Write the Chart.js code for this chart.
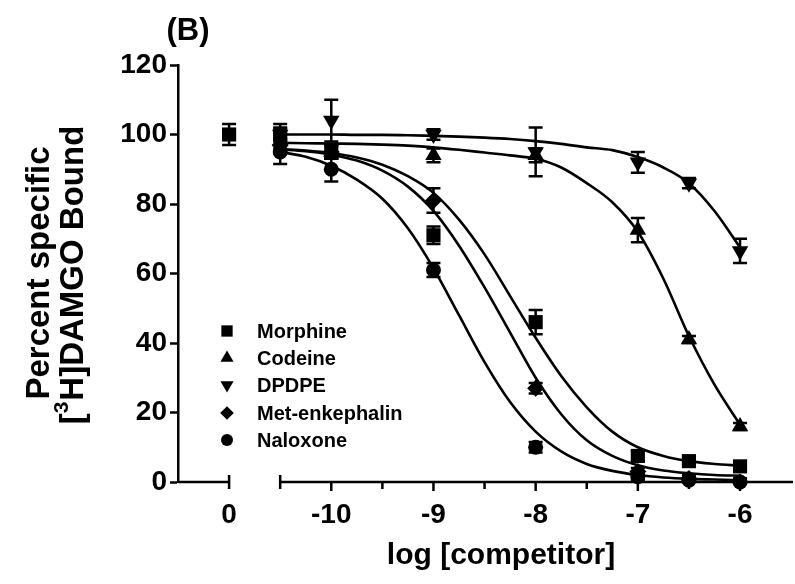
<!DOCTYPE html>
<html lang="en">
<head>
  <meta charset="UTF-8" />
  <title>[3H]DAMGO competition binding</title>
  <script src="https://cdn.jsdelivr.net/npm/chart.js"></script>
  <style>
    html, body { margin: 0; padding: 0; background: #fff; }
    #chart { display: block; }
  </style>
</head>
<body>
  <canvas id="chart" width="795" height="584"></canvas>

  <script>
    // x = -11 stands for the "0" (no competitor) point, left of the axis break
    const zeroPos = -11;
    const xTicks = [-11, -10, -9, -8, -7, -6];
    const xMinorTicks = [-9.5, -8.5, -7.5, -6.5];
    const yTicks = [0, 20, 40, 60, 80, 100, 120];

    const compounds = ['Morphine', 'Codeine', 'DPDPE', 'Met-enkephalin', 'Naloxone'];
    const markerStyles = ['rect', 'triangle', 'triangle', 'rectRot', 'circle'];
    const markerRotation = [0, 0, 180, 0, 0];
    const markerRadius = [10, 9.5, 9.5, 8.5, 7.5];

    // measured points
    const morphineX = [zeroPos, -10.5, -10, -9, -8, -7, -6.5, -6];
    const morphineY = [100, 100, 95, 71, 46, 7.5, 6, 4.5];
    const morphineErr = [3, 3, 2, 2.5, 3.5, 1.5, 1, 1];

    const doseX = [-10.5, -10, -9, -8, -7, -6.5, -6];
    const codeineY = [98, 95, 94, 94, 72.5, 41, 16];
    const codeineErr = [2, 2, 2, 2, 3.5, 1, 1];
    const dpdpeY = [100, 104, 100, 95, 92, 86, 66.5];
    const dpdpeErr = [2, 6, 1.5, 7, 3, 1.5, 3.5];
    const metEnkY = [97, 95, 81, 27, 3, 1, 0];
    const metEnkErr = [2, 2, 3.5, 1.5, 1, 1, 1];
    const naloxoneY = [95, 90, 61, 10, 1.5, 0.5, 0];
    const naloxoneErr = [3.5, 3.5, 2, 1.5, 1, 1, 1];

    // fitted curves
    const fitX = [-10.5, -10.25, -10, -9.75, -9.5, -9.25, -9, -8.75, -8.5, -8.25, -8, -7.75, -7.5, -7.25, -7, -6.75, -6.5, -6.25, -6];
    const morphineFit = [95.8, 95.4, 94.7, 93.4, 91.3, 88.0, 83.2, 75.5, 65.5, 53.5, 41.5, 30.5, 21.5, 14.5, 10.0, 7.5, 6.0, 5.2, 4.7];
    const codeineFit = [97.6, 97.5, 97.4, 97.3, 97.1, 96.8, 96.3, 95.6, 94.8, 94.0, 93.0, 90.5, 86.0, 80.5, 72.0, 58.5, 42.0, 28.0, 16.5];
    const dpdpeFit = [100, 100, 100, 99.9, 99.9, 99.8, 99.6, 99.4, 99.1, 98.7, 98.1, 97.3, 96.3, 95.5, 93.5, 90.5, 86.0, 78.0, 67.5];
    const metEnkFit = [95.7, 95.2, 94.2, 92.5, 89.6, 85.0, 78.0, 68.0, 56.0, 43.0, 30.0, 19.5, 12.0, 7.5, 4.8, 3.3, 2.5, 2.0, 1.8];
    const naloxoneFit = [95.0, 93.6, 91.0, 87.0, 81.5, 73.0, 61.5, 48.0, 34.5, 23.0, 14.5, 8.8, 5.2, 3.2, 2.0, 1.3, 0.9, 0.7, 0.5];

    const pointX = [morphineX, doseX, doseX, doseX, doseX];
    const pointY = [morphineY, codeineY, dpdpeY, metEnkY, naloxoneY];
    const pointErr = [morphineErr, codeineErr, dpdpeErr, metEnkErr, naloxoneErr];
    const fitY = [morphineFit, codeineFit, dpdpeFit, metEnkFit, naloxoneFit];

    const FONT = "'Liberation Sans', Arial, Helvetica, sans-serif";

    const datasets = [];
    fitY.forEach((ys, i) => {
      datasets.push({
        label: compounds[i] + ' fit',
        data: fitX.map((x, j) => ({ x, y: ys[j] })),
        showLine: true,
        borderColor: '#000',
        borderWidth: 2.6,
        pointRadius: 0,
        cubicInterpolationMode: 'monotone',
        fill: false,
        order: 2
      });
    });
    compounds.forEach((name, i) => {
      datasets.push({
        label: name,
        data: pointX[i].map((x, j) => ({ x, y: pointY[i][j] })),
        errors: pointErr[i],
        showLine: false,
        pointStyle: markerStyles[i],
        pointRotation: markerRotation[i],
        pointRadius: markerRadius[i],
        pointHoverRadius: markerRadius[i],
        backgroundColor: '#000',
        borderColor: '#000',
        borderWidth: 0,
        order: 1
      });
    });

    function drawErrorBars(chart) {
      const ctx = chart.ctx;
      const xs = chart.scales.x, ys = chart.scales.y;
      ctx.save();
      ctx.strokeStyle = '#000';
      ctx.lineWidth = 2.5;
      chart.data.datasets.forEach(ds => {
        if (!ds.errors) return;
        ds.data.forEach((p, j) => {
          const e = ds.errors[j];
          const px = xs.getPixelForValue(p.x);
          const top = ys.getPixelForValue(p.y + e);
          const bot = ys.getPixelForValue(Math.max(0, p.y - e));
          ctx.beginPath();
          ctx.moveTo(px, top); ctx.lineTo(px, bot);
          ctx.moveTo(px - 7, top); ctx.lineTo(px + 7, top);
          if (p.y - e > 0) { ctx.moveTo(px - 7, bot); ctx.lineTo(px + 7, bot); }
          ctx.stroke();
        });
      });
      ctx.restore();
    }

    // broken x axis: short piece for the "0" point, then the log range
    function drawXAxis(chart) {
      const ctx = chart.ctx;
      const xs = chart.scales.x;
      const y0 = chart.chartArea.bottom;
      const left = chart.chartArea.left;
      const right = chart.width - 2; // axis runs out to the edge of the figure
      const breakL = xs.getPixelForValue(zeroPos);
      const breakR = xs.getPixelForValue(-10.5);
      ctx.save();
      ctx.strokeStyle = '#000';
      ctx.lineWidth = 2.5;
      ctx.beginPath();
      ctx.moveTo(left, y0); ctx.lineTo(breakL, y0);
      ctx.moveTo(breakR, y0); ctx.lineTo(right, y0);
      ctx.moveTo(breakL, y0 - 7); ctx.lineTo(breakL, y0 + 7);
      ctx.moveTo(breakR, y0 - 7); ctx.lineTo(breakR, y0 + 7);
      xTicks.filter(v => v !== zeroPos).forEach(v => {
        const px = xs.getPixelForValue(v);
        ctx.moveTo(px, y0); ctx.lineTo(px, y0 + 9);
      });
      xMinorTicks.forEach(v => {
        const px = xs.getPixelForValue(v);
        ctx.moveTo(px, y0); ctx.lineTo(px, y0 + 7);
      });
      ctx.stroke();
      ctx.restore();
    }

    function drawTexts(chart) {
      const ctx = chart.ctx;
      ctx.save();
      ctx.fillStyle = '#000';
      ctx.textBaseline = 'middle';

      // panel letter
      ctx.font = 'bold 31px ' + FONT;
      ctx.textAlign = 'center';
      ctx.fillText('(B)', 188, 31);

      // x title
      ctx.font = 'bold 30px ' + FONT;
      ctx.fillText('log [competitor]', 501, 556);

      // y title, two rotated lines
      ctx.save();
      ctx.translate(40, 273);
      ctx.rotate(-Math.PI / 2);
      ctx.font = 'bold 33px ' + FONT;
      ctx.textAlign = 'center';
      ctx.fillText('Percent specific', 0, 0);
      ctx.restore();

      ctx.save();
      ctx.translate(74, 275);
      ctx.rotate(-Math.PI / 2);
      const big = 'bold 33px ' + FONT, small = 'bold 21px ' + FONT;
      ctx.font = big;
      const wA = ctx.measureText('[').width;
      const wC = ctx.measureText('H]DAMGO Bound').width;
      ctx.font = small;
      const wB = ctx.measureText('3').width + 1;
      let x = -(wA + wB + wC) / 2;
      ctx.textAlign = 'left';
      ctx.font = big;
      ctx.fillText('[', x, 0); x += wA;
      ctx.font = small;
      ctx.fillText('3', x, -12); x += wB;
      ctx.font = big;
      ctx.fillText('H]DAMGO Bound', x, 0);
      ctx.restore();

      // legend
      const legY = [331, 358, 385, 413, 440];
      ctx.font = 'bold 20px ' + FONT;
      ctx.textAlign = 'left';
      compounds.forEach((name, i) => {
        ctx.fillStyle = '#000';
        ctx.strokeStyle = '#000';
        Chart.helpers.drawPoint(ctx, {
          pointStyle: markerStyles[i],
          rotation: markerRotation[i],
          radius: markerRadius[i] * 0.8,
          borderWidth: 0
        }, 227, legY[i]);
        ctx.fillText(name, 257, legY[i] + 1);
      });
      ctx.restore();
    }

    const decor = {
      id: 'decor',
      beforeDatasetsDraw(chart) {
        drawXAxis(chart);
        drawErrorBars(chart);
      },
      afterDraw(chart) {
        drawTexts(chart);
      }
    };

    new Chart(document.getElementById('chart'), {
      type: 'scatter',
      data: { datasets },
      options: {
        responsive: false,
        devicePixelRatio: 1,
        animation: false,
        clip: false,
        layout: { padding: { top: 65, right: 2, left: 0, bottom: 0 } },
        plugins: { legend: { display: false }, tooltip: { enabled: false } },
        scales: {
          x: {
            type: 'linear',
            min: -11.5,
            max: -5.56,
            afterBuildTicks: s => { s.ticks = xTicks.map(v => ({ value: v })); },
            afterFit: s => { s.height = 102; },
            ticks: {
              color: '#000',
              font: { family: FONT, size: 28, weight: 'bold' },
              padding: 16,
              maxRotation: 0,
              autoSkip: false,
              callback: v => (v === zeroPos ? '0' : String(v))
            },
            grid: { display: false, drawTicks: false },
            border: { display: false }
          },
          y: {
            min: 0,
            max: 120,
            afterBuildTicks: s => { s.ticks = yTicks.map(v => ({ value: v })); },
            afterFit: s => { s.width = 178; },
            ticks: {
              color: '#000',
              font: { family: FONT, size: 28, weight: 'bold' },
              padding: 3
            },
            grid: {
              display: true,
              drawOnChartArea: false,
              drawTicks: true,
              tickLength: 8,
              tickWidth: 2.5,
              tickColor: '#000'
            },
            border: { display: true, color: '#000', width: 2.5 }
          }
        }
      },
      plugins: [decor]
    });
  </script>
</body>
</html>
